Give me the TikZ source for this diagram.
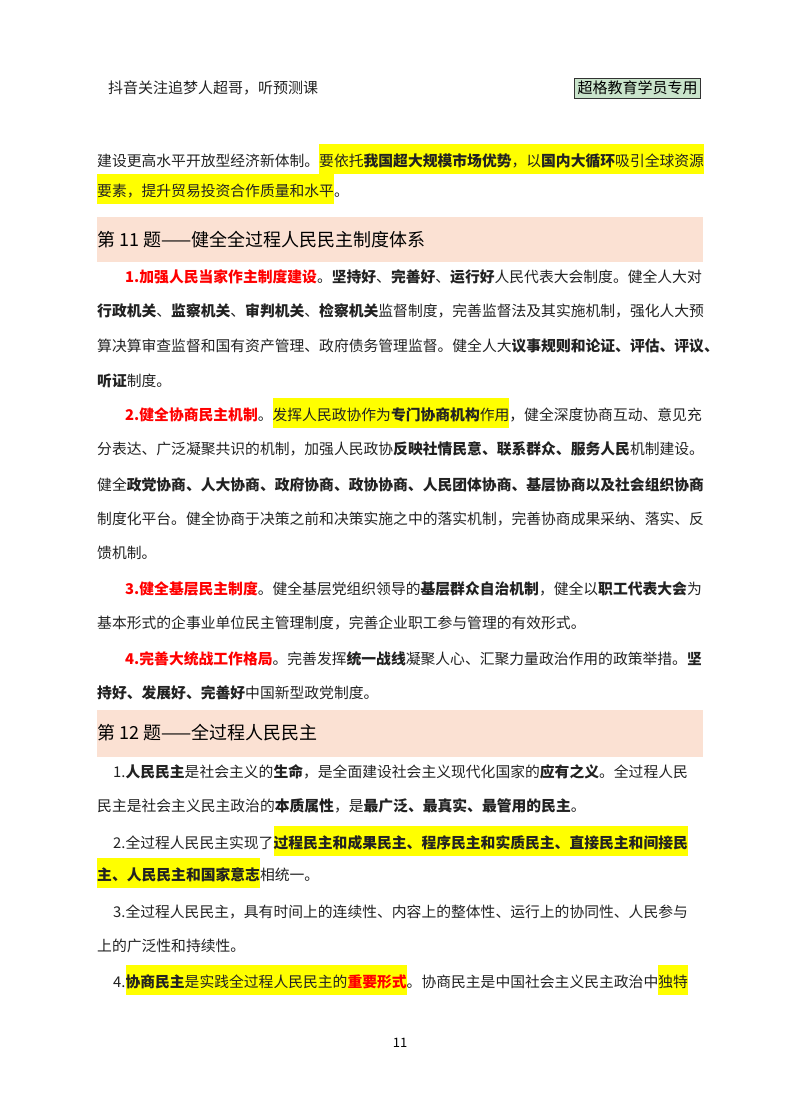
\documentclass[tikz,border=0pt]{standalone}
\usepackage{fontspec}
\setmainfont{Noto Sans CJK SC}
\definecolor{hly}{HTML}{FFFF00}
\definecolor{band}{HTML}{FBE1D3}
\definecolor{tagg}{HTML}{C9E4CB}
\definecolor{txt}{HTML}{222222}
\newcommand{\hl}[1]{{\setlength{\fboxsep}{0pt}\colorbox{hly}{\rule[-8pt]{0pt}{30pt}#1}}}
\newcommand{\rd}[1]{\textcolor{red}{\textbf{#1}}}
\newcommand{\bd}[1]{\textbf{#1}}
\begin{document}
\begin{tikzpicture}[x=1pt,y=-1pt,
  ln/.style={anchor=base west,inner sep=0pt,font=\fontsize{14.8}{14.8}\selectfont,text=txt},
  hd/.style={anchor=west,inner sep=0pt,font=\fontsize{18}{18}\selectfont,text=black}]
\useasboundingbox (0,0) rectangle (800,1114);
\fill[white] (0,0) rectangle (800,1114);
\node[anchor=west,inner sep=0pt,font=\fontsize{15}{15}\selectfont,text=txt] (h1) at (108,88) {抖音关注追梦人超哥，听预测课};
\node[draw=black!80,line width=0.8pt,fill=tagg,inner xsep=3pt,inner ysep=3pt,font=\fontsize{15}{15}\selectfont,anchor=east] (h2) at (701,88) {超格教育学员专用};
\node[ln] (l1) at (97,166) {建设更高水平开放型经济新体制。\hl{要依托\bd{我国超大规模市场优势}，以\bd{国内大循环}吸引全球资源}};
\node[ln] (l2) at (97,196) {\hl{要素，提升贸易投资合作质量和水平}。};
\fill[band] (97,217) rectangle (703,262);
\node[hd] (s1) at (97,240) {第 11 题——健全全过程人民民主制度体系};
\node[ln] (a1) at (125,282) {\rd{1.加强人民当家作主制度建设}。\bd{坚持好}、\bd{完善好}、\bd{运行好}人民代表大会制度。健全人大对};
\node[ln] (a2) at (97,316) {\bd{行政机关}、\bd{监察机关}、\bd{审判机关}、\bd{检察机关}监督制度，完善监督法及其实施机制，强化人大预};
\node[ln] (a3) at (97,351) {算决算审查监督和国有资产管理、政府债务管理监督。健全人大\bd{议事规则和论证、评估、评议、}};
\node[ln] (a4) at (97,386) {\bd{听证}制度。};
\node[ln] (b1) at (125,420) {\rd{2.健全协商民主机制}。\hl{发挥人民政协作为\bd{专门协商机构}作用}，健全深度协商互动、意见充};
\node[ln] (b2) at (97,454) {分表达、广泛凝聚共识的机制，加强人民政协\bd{反映社情民意、联系群众、服务人民}机制建设。};
\node[ln] (b3) at (97,490) {健全\bd{政党协商、人大协商、政府协商、政协协商、人民团体协商、基层协商以及社会组织协商}};
\node[ln] (b4) at (97,524) {制度化平台。健全协商于决策之前和决策实施之中的落实机制，完善协商成果采纳、落实、反};
\node[ln] (b5) at (97,558) {馈机制。};
\node[ln] (c1) at (125,594) {\rd{3.健全基层民主制度}。健全基层党组织领导的\bd{基层群众自治机制}，健全以\bd{职工代表大会}为};
\node[ln] (c2) at (97,628) {基本形式的企事业单位民主管理制度，完善企业职工参与管理的有效形式。};
\node[ln] (d1) at (125,664) {\rd{4.完善大统战工作格局}。完善发挥\bd{统一战线}凝聚人心、汇聚力量政治作用的政策举措。\bd{坚}};
\node[ln] (d2) at (97,698) {\bd{持好、发展好、完善好}中国新型政党制度。};
\fill[band] (97,710) rectangle (703,757);
\node[hd] (s2) at (97,733) {第 12 题——全过程人民民主};
\node[ln] (e1) at (113,777) {1.\bd{人民民主}是社会主义的\bd{生命}，是全面建设社会主义现代化国家的\bd{应有之义}。全过程人民};
\node[ln] (e2) at (97,811) {民主是社会主义民主政治的\bd{本质属性}，是\bd{最广泛、最真实、最管用的民主}。};
\node[ln] (f1) at (113,848) {2.全过程人民民主实现了\hl{\bd{过程民主和成果民主、程序民主和实质民主、直接民主和间接民}}};
\node[ln] (f2) at (97,880) {\hl{\bd{主、人民民主和国家意志}}相统一。};
\node[ln] (g1) at (113,917) {3.全过程人民民主，具有时间上的连续性、内容上的整体性、运行上的协同性、人民参与};
\node[ln] (g2) at (97,951) {上的广泛性和持续性。};
\node[ln] (k1) at (113,987) {4.\hl{\bd{协商民主}是实践全过程人民民主的\rd{重要形式}}。协商民主是中国社会主义民主政治中\hl{独特}};
\node[anchor=center,inner sep=0pt,font=\fontsize{13}{13}\selectfont] (pg) at (400,1043) {11};
\end{tikzpicture}
\end{document}
